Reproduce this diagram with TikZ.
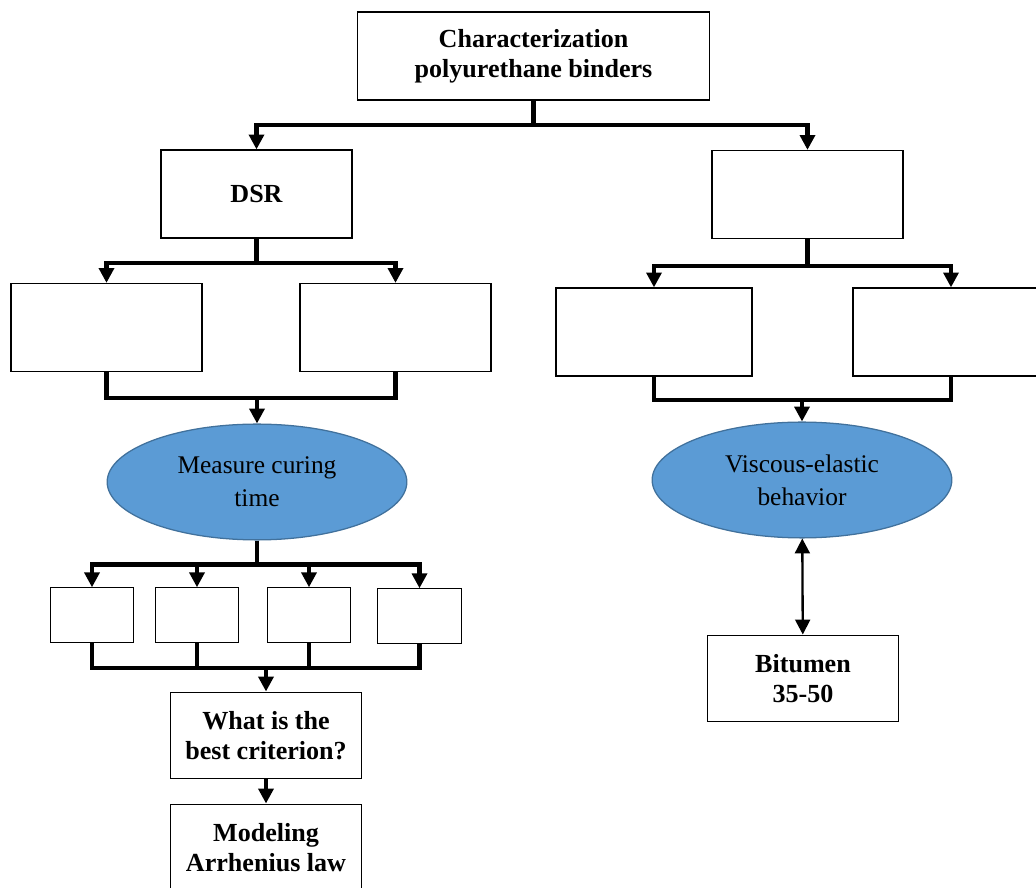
\documentclass[tikz,border=0pt]{standalone}
\usepackage{fontspec}
\setmainfont{Liberation Serif}
\usetikzlibrary{arrows.meta,shapes.geometric}
\definecolor{capblue}{HTML}{5B9BD5}
\definecolor{capedge}{HTML}{41719C}

\begin{document}
\begin{tikzpicture}[x=0.01658cm,y=-0.01658cm,>={Triangle[length=7pt,width=7pt]},
  box/.style={draw=black,line width=0.55pt,minimum width=3.17cm,minimum height=1.46cm,align=center,font=\fontsize{12.3}{14}\selectfont\bfseries,inner sep=2pt},
  smallbox/.style={draw=black,line width=0.55pt,minimum width=1.39cm,minimum height=0.9cm},
  oval/.style={ellipse,draw=capedge,fill=capblue,line width=0.6pt,minimum width=4.97cm,minimum height=1.92cm,align=center,inner sep=0pt,font=\fontsize{12}{15.5}\selectfont},
  link/.style={line width=1.9pt}]
\useasboundingbox (0,0) rectangle (1036,888);
\clip (0,0) rectangle (1036,888);
% boxes
\node[box,minimum width=5.85cm] (char) at (533.5,56) {Characterization\\polyurethane binders};
\node[box] (dsr) at (256.5,194) {DSR};
\node[box] (rtop) at (807.5,194.5) {};
\node[box] (dsra) at (106.5,327.5) {};
\node[box] (dsrb) at (395.5,327.5) {};
\node[box,minimum width=3.25cm] (rtopa) at (654,332) {};
\node[box,minimum width=3.25cm] (rtopb) at (951,332) {};
\node[oval] (cure) at (257,482) {Measure curing\\time};
\node[oval] (visco) at (802,480) {Viscous-elastic\\behavior};
\node[smallbox] (c1) at (92,615) {};
\node[smallbox] (c2) at (197,615) {};
\node[smallbox] (c3) at (309,615) {};
\node[smallbox] (c4) at (419.5,616) {};
\node[box,minimum width=3.18cm,minimum height=1.44cm] (crit) at (266,735.5) {What is the\\best criterion?};
\node[box,minimum width=3.18cm,minimum height=1.44cm] (arrh) at (266,847.5) {Modeling\\Arrhenius law};
\node[box,minimum width=3.18cm,minimum height=1.44cm] (bit) at (803,678.5) {Bitumen\\35-50};
% connectors
\draw[link,->] (char.south) -- ++(0,24) -| (dsr.north);
\draw[link,->] (char.south) -- ++(0,24) -| (rtop.north);
\draw[link,->] (dsr.south) -- ++(0,24) -| (dsra.north);
\draw[link,->] (dsr.south) -- ++(0,24) -| (dsrb.north);
\draw[link,->] (rtop.south) -- ++(0,27) -| (rtopa.north);
\draw[link,->] (rtop.south) -- ++(0,27) -| (rtopb.north);
\draw[link] (dsra.south) -- ++(0,26) coordinate (dsrj) -| (dsrb.south);
\draw[link,->] (dsrj -| cure.north) -- (cure.north);
\draw[link] (rtopa.south) -- ++(0,23) coordinate (rtopj) -| (rtopb.south);
\draw[link,->] (rtopj -| visco.north) -- (visco.north);
\draw[link] (cure.south) -- ++(0,24) coordinate (curej);
\foreach \c in {c1,c2,c3,c4} \draw[link,->] (curej) -| (\c.north);
\draw[link] (c1.south) -- ++(0,25) coordinate (critj) -| (c4.south);
\foreach \c in {c2,c3} \draw[link] (\c.south) -- (\c.south |- critj);
\draw[link,->] (critj -| crit.north) -- (crit.north);
\draw[link,->] (crit) -- (arrh);
\draw[line width=1.1pt,<->] (visco) -- (bit);
\end{tikzpicture}
\end{document}
